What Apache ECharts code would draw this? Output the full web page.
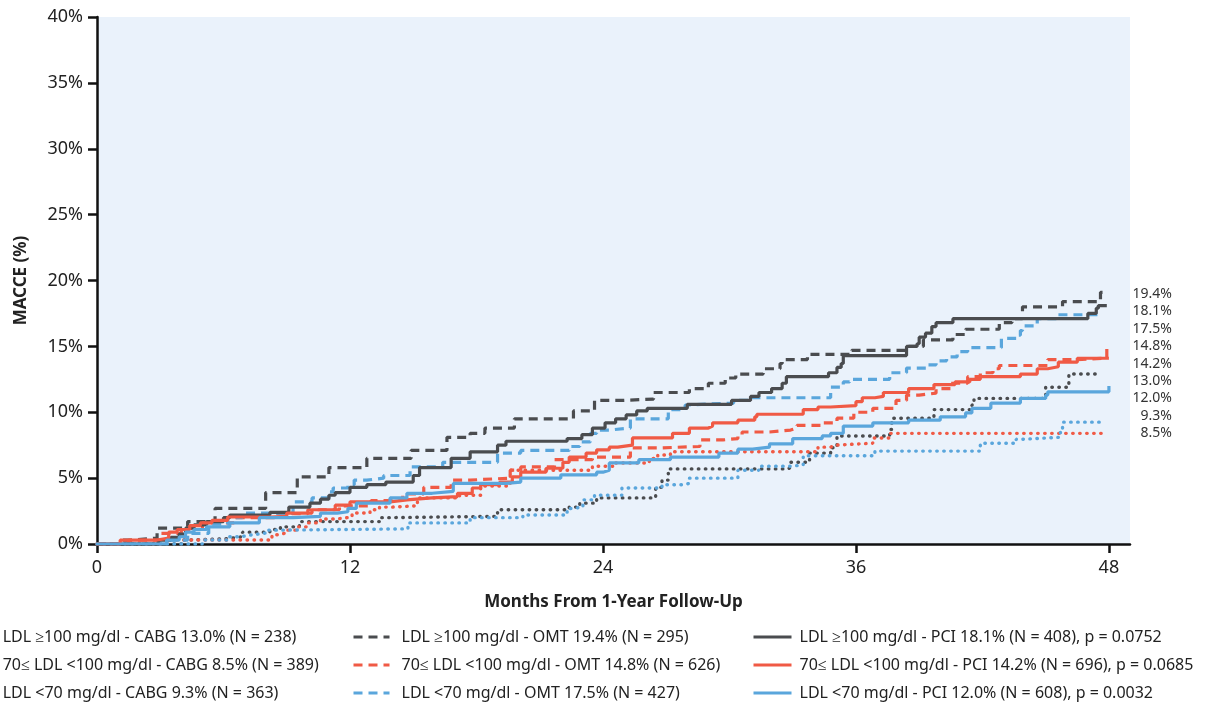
<!DOCTYPE html>
<html>
<head>
<meta charset="utf-8">
<script src="https://cdn.jsdelivr.net/npm/echarts@6/dist/echarts.min.js"></script>
<style>
html,body{margin:0;padding:0;background:#fff;}
#c{width:1229px;height:709px;}
</style>
</head>
<body>
<div id="c"></div>
<script>
// ---- data (months, MACCE %) ----
const xTicks = [0, 12, 24, 36, 48];
const yTicks = [0, 5, 10, 15, 20, 25, 30, 35, 40];

const names = [
  'LDL ≥100 mg/dl - CABG 13.0% (N = 238)',
  '70≤ LDL <100 mg/dl - CABG 8.5% (N = 389)',
  'LDL <70 mg/dl - CABG 9.3% (N = 363)',
  'LDL ≥100 mg/dl - OMT 19.4% (N = 295)',
  '70≤ LDL <100 mg/dl - OMT 14.8% (N = 626)',
  'LDL <70 mg/dl - OMT 17.5% (N = 427)',
  'LDL ≥100 mg/dl - PCI 18.1% (N = 408), p = 0.0752',
  '70≤ LDL <100 mg/dl - PCI 14.2% (N = 696), p = 0.0685',
  'LDL <70 mg/dl - PCI 12.0% (N = 608), p = 0.0032'
];

const endLabels = ['19.4%', '18.1%', '17.5%', '14.8%', '14.2%', '13.0%', '12.0%', '9.3%', '8.5%'];

const cabgHigh = [[0,0],[4.1,0.3],[4.3,0.4],[6.2,0.55],[6.9,0.9],[8.2,1.1],[8.7,1.3],[9.6,1.7],[13.4,2.0],[13.9,2.1],[19.0,2.6],[22.4,2.8],[22.9,3.1],[23.7,3.5],[26.5,4.3],[26.8,4.85],[27.1,5.7],[32.8,5.85],[32.9,6.2],[33.8,6.9],[34.8,7.3],[35.1,8.2],[37.6,8.7],[37.7,9.55],[39.7,10.2],[41.5,10.55],[41.6,11.05],[45.0,11.9],[46.1,12.9],[47.4,12.9]];
const cabgMid = [[0,0],[3.3,0.3],[8.3,0.7],[8.6,0.85],[9.0,1.05],[9.5,1.3],[10.0,1.6],[10.6,1.9],[11.4,2.05],[12.1,2.35],[12.95,2.6],[13.4,2.8],[14.0,2.9],[15.2,3.5],[17.2,3.7],[18.2,4.4],[19.6,5.6],[23.5,5.9],[24.5,6.15],[26.2,6.5],[26.6,6.75],[27.2,7.0],[34.2,7.35],[34.8,7.5],[35.0,7.65],[36.8,8.05],[37.6,8.4],[47.9,8.4]];
const cabgLow = [[0,0],[5.0,0.3],[6.2,0.55],[6.8,0.7],[7.4,0.85],[8.1,1.05],[8.7,1.15],[14.75,1.6],[17.7,2.0],[20.2,2.2],[22.3,2.7],[22.6,2.8],[23.05,3.35],[23.6,3.7],[24.9,4.25],[26.8,4.5],[27.8,4.6],[28.1,5.0],[30.4,5.6],[31.4,5.9],[32.9,6.0],[33.5,6.7],[36.9,7.05],[41.9,7.65],[43.6,7.95],[43.9,8.1],[45.7,8.65],[45.8,9.25],[47.6,9.25]];

const omtHigh = [[0,0],[1.1,0.3],[1.7,0.45],[2.85,1.2],[4.3,1.7],[5.6,2.7],[8.0,3.9],[9.5,5.1],[11.0,5.8],[12.8,6.5],[14.9,7.1],[16.6,8.1],[17.7,8.4],[18.4,8.8],[19.8,9.5],[22.6,10.1],[23.6,10.9],[24.9,11.0],[26.4,11.5],[28.1,11.8],[29.0,12.2],[29.8,12.6],[30.3,12.9],[31.6,13.3],[32.4,13.7],[32.5,14.0],[33.7,14.4],[35.8,14.7],[38.5,15.0],[39.2,15.5],[40.6,15.9],[41.2,16.3],[42.8,16.8],[43.4,17.1],[43.9,18.0],[45.8,18.4],[47.6,19.1],[47.7,19.1]];
const omtMid = [[0,0],[1.5,0.3],[3.0,0.8],[4.0,1.2],[5.0,1.6],[6.5,2.0],[8.5,2.3],[10.0,2.6],[11.5,2.9],[13.0,3.3],[14.5,3.8],[15.5,4.3],[16.8,4.85],[17.7,5.0],[19.6,5.6],[20.1,5.85],[21.7,6.4],[23.5,6.6],[25.3,7.3],[26.8,7.4],[28.6,7.9],[29.7,8.0],[30.4,8.2],[30.6,8.5],[31.9,8.65],[32.9,8.8],[33.2,9.0],[34.4,9.2],[35.1,9.55],[35.9,10.0],[36.8,10.3],[37.9,10.9],[38.4,11.3],[39.0,11.45],[39.8,11.8],[40.5,12.2],[41.3,12.7],[41.9,13.0],[42.5,13.3],[42.8,13.55],[45.1,14.0],[46.5,14.1],[47.9,14.8]];
const omtLow = [[0,0],[3.3,0.3],[4.3,0.8],[5.3,1.5],[6.2,2.0],[6.9,2.35],[9.3,3.2],[10.2,3.5],[11.0,3.95],[11.2,4.25],[11.9,4.5],[12.2,4.85],[12.8,5.0],[13.6,5.2],[14.85,5.85],[16.4,6.2],[19.0,6.9],[20.1,7.1],[22.4,7.4],[22.9,7.75],[23.4,8.4],[23.7,8.65],[24.3,8.8],[25.3,9.5],[27.1,10.2],[27.9,10.55],[28.0,10.7],[30.2,10.9],[31.1,11.1],[34.8,11.9],[35.4,12.3],[35.7,12.5],[37.6,13.0],[38.4,13.35],[39.4,13.6],[39.8,13.9],[40.3,14.2],[40.8,14.6],[41.3,14.9],[42.9,15.6],[43.6,15.85],[43.8,16.2],[43.9,16.55],[44.6,17.1],[45.5,17.4],[47.7,17.4]];

const pciHigh = [[0,0],[2.9,0.3],[3.5,0.5],[3.9,0.75],[4.2,1.2],[4.6,1.45],[5.2,1.7],[6.0,2.0],[6.3,2.2],[8.2,2.4],[9.1,2.8],[10.1,3.1],[10.6,3.4],[11.0,3.7],[11.3,3.9],[12.0,4.3],[12.8,4.5],[13.7,4.7],[15.0,5.2],[15.3,5.8],[16.8,6.5],[17.7,7.0],[19.0,7.5],[19.4,7.8],[22.3,8.0],[23.0,8.3],[23.5,8.8],[24.1,9.2],[24.6,9.5],[25.1,9.8],[25.6,10.1],[26.1,10.3],[28.0,10.6],[30.1,10.9],[31.0,11.2],[31.4,11.5],[32.0,11.8],[32.5,12.2],[32.7,12.7],[34.7,13.0],[35.1,13.4],[35.3,13.7],[35.4,14.3],[38.4,15.0],[38.9,15.2],[39.0,15.7],[39.3,16.0],[39.6,16.5],[39.8,16.8],[40.6,17.1],[47.0,17.5],[47.4,17.9],[47.5,18.1],[47.9,18.1]];
const pciMid = [[0,0],[1.1,0.3],[2.85,0.45],[3.4,0.9],[3.8,1.1],[4.4,1.4],[4.9,1.6],[5.45,1.8],[6.2,2.05],[8.2,2.1],[9.0,2.35],[10.2,2.6],[11.3,2.95],[12.0,3.2],[13.9,3.35],[14.7,3.5],[15.9,3.6],[17.1,3.85],[17.8,4.25],[18.2,4.5],[19.1,4.7],[19.7,5.1],[20.1,5.45],[21.3,5.75],[22.1,6.2],[22.4,6.6],[23.2,6.9],[23.7,7.15],[24.3,7.35],[24.7,7.5],[25.4,8.05],[27.3,8.4],[28.1,8.8],[29.0,8.95],[29.2,9.2],[30.4,9.4],[31.2,9.65],[31.3,9.85],[33.5,10.2],[34.2,10.4],[34.8,10.5],[36.0,10.8],[36.3,11.1],[36.9,11.2],[37.3,11.5],[38.5,11.8],[39.7,12.1],[40.7,12.3],[41.4,12.5],[41.9,12.7],[43.8,12.9],[44.6,13.3],[45.1,13.45],[45.6,13.8],[46.5,14.1],[48.0,14.1]];
const pciLow = [[0,0],[3.3,0.3],[3.9,0.55],[4.2,0.9],[4.6,1.1],[5.2,1.3],[6.3,1.6],[7.7,2.0],[9.3,2.1],[10.6,2.35],[11.4,2.45],[11.9,2.7],[12.3,3.1],[13.9,3.5],[14.7,3.85],[15.9,4.0],[16.9,4.6],[19.4,4.7],[20.1,5.0],[22.0,5.25],[23.7,5.45],[24.0,5.6],[24.3,6.15],[25.7,6.4],[27.2,6.6],[29.5,6.9],[30.4,7.2],[31.1,7.35],[31.9,7.6],[33.0,8.0],[34.4,8.2],[34.8,8.4],[35.4,8.95],[36.8,9.2],[38.5,9.4],[40.0,9.65],[41.2,9.95],[41.5,10.3],[42.4,10.7],[43.8,11.05],[45.0,11.3],[45.1,11.55],[48.0,12.0]];

// ---- styles ----
const GRAY = '#4a4c4f', RED = '#f05a45', BLUE = '#5aa6dc';
const FONT = 'Noto Sans';
const dotted = [0.5, 6.5];
const dashed = [9, 6];

const seriesDefs = [
  {d: cabgHigh, c: GRAY, t: dotted},
  {d: cabgMid,  c: RED,  t: dotted},
  {d: cabgLow,  c: BLUE, t: dotted},
  {d: omtHigh,  c: GRAY, t: dashed},
  {d: omtMid,   c: RED,  t: dashed},
  {d: omtLow,   c: BLUE, t: dashed},
  {d: pciHigh,  c: GRAY, t: 'solid'},
  {d: pciMid,   c: RED,  t: 'solid'},
  {d: pciLow,   c: BLUE, t: 'solid'}
];

const series = seriesDefs.map((s, i) => ({
  name: names[i],
  type: 'line',
  step: 'end',
  data: s.d,
  showSymbol: false,
  symbol: 'none',
  color: s.c,
  lineStyle: {color: s.c, width: s.t === dotted ? 3.4 : 3.2, type: s.t, cap: s.t === dotted ? 'round' : 'butt'},
  emphasis: {disabled: true},
  z: 2 + (i >= 6 ? 1 : 0)
}));

const legendBase = {
  orient: 'vertical', top: 628, padding: 0,
  itemHeight: 18, itemGap: 10,
  selectedMode: false,
  itemStyle: {opacity: 0},
  textStyle: {fontFamily: FONT, fontSize: 16, color: '#222', lineHeight: 18}
};

const chart = echarts.init(document.getElementById('c'), null, {renderer: 'canvas'});
chart.setOption({
  animation: false,
  backgroundColor: '#fff',
  grid: {left: 97, right: 99, top: 17, bottom: 165, show: true, backgroundColor: '#eaf2fb', borderWidth: 0, containLabel: false},
  xAxis: {
    type: 'value', min: 0, max: 49,
    name: 'Months From 1-Year Follow-Up', nameLocation: 'middle', nameGap: 50,
    nameTextStyle: {fontFamily: FONT, fontSize: 17, fontWeight: 'bold', color: '#222'},
    axisLine: {show: true, lineStyle: {color: '#111', width: 2.5}},
    axisTick: {show: true, length: 9, lineStyle: {color: '#111', width: 2.5}, customValues: xTicks},
    axisLabel: {fontFamily: FONT, fontSize: 18, color: '#222', margin: 15, customValues: xTicks},
    splitLine: {show: false}
  },
  yAxis: {
    type: 'value', min: 0, max: 40, interval: 5,
    name: 'MACCE (%)', nameLocation: 'middle', nameGap: 67, nameRotate: 90,
    nameTextStyle: {fontFamily: FONT, fontSize: 17, fontWeight: 'bold', color: '#222'},
    axisLine: {show: true, lineStyle: {color: '#111', width: 2.5}},
    axisTick: {show: true, length: 9, lineStyle: {color: '#111', width: 2.5}, customValues: yTicks},
    axisLabel: {fontFamily: FONT, fontSize: 18, color: '#222', margin: 14, formatter: v => v + '%', customValues: yTicks},
    splitLine: {show: false}
  },
  legend: [
    Object.assign({}, legendBase, {data: names.slice(0, 3), left: 0, itemWidth: 1,
      lineStyle: {opacity: 0},
      textStyle: Object.assign({}, legendBase.textStyle, {padding: [0, 0, 0, -10]})}),
    Object.assign({}, legendBase, {data: names.slice(3, 6), left: 352, itemWidth: 36,
      lineStyle: {width: 3},
      textStyle: Object.assign({}, legendBase.textStyle, {padding: [0, 0, 0, 7]})}),
    Object.assign({}, legendBase, {data: names.slice(6, 9), left: 752, itemWidth: 38,
      lineStyle: {width: 3},
      textStyle: Object.assign({}, legendBase.textStyle, {padding: [0, 0, 0, 3]})})
  ],
  series: series
});

// stacked end labels at the right of the plot
const gridRight = chart.convertToPixel({gridIndex: 0}, [49, 0])[0];
chart.setOption({
  graphic: endLabels.map((t, i) => ({
    type: 'text',
    x: gridRight + 42, y: 294 + i * 17.4,
    style: {text: t, fontFamily: FONT, fontSize: 14, fill: '#333', align: 'right', verticalAlign: 'middle'}
  }))
});
</script>
</body>
</html>
